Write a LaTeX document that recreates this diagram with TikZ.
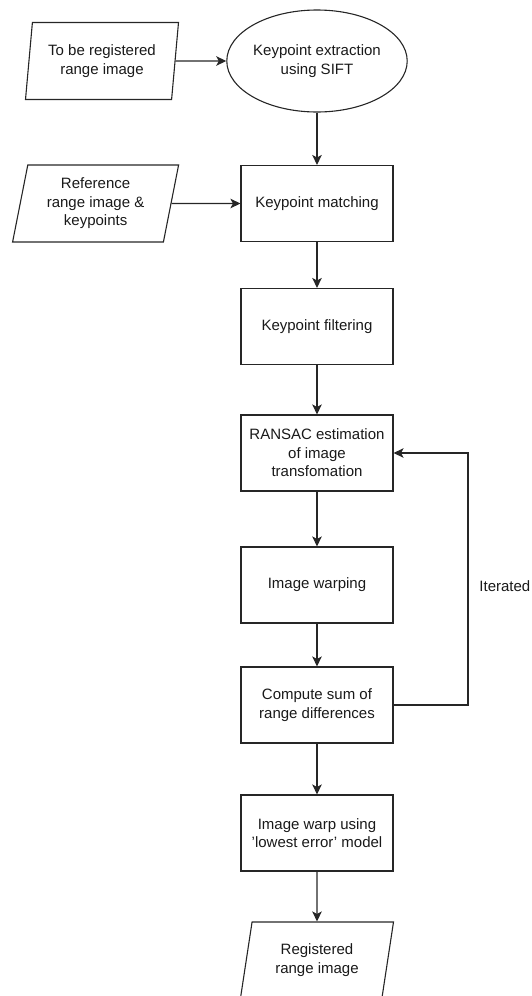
\documentclass[tikz,border=0pt]{standalone}
\usepackage{fontspec}
\setmainfont{Liberation Sans}
\usetikzlibrary{shapes.geometric,arrows.meta}
\begin{document}
\begin{tikzpicture}[x=1pt,y=-1pt,
  every node/.style={font=\fontsize{15}{18.5}\selectfont, text=black!90, align=center},
  procbox/.style={draw=black!85, line width=1.1pt, rectangle, minimum width=152pt, minimum height=76pt, inner sep=2pt},
  iobox/.style={draw=black!85, line width=1.1pt, trapezium, trapezium stretches body, inner sep=0pt, minimum height=77pt},
  arr/.style={draw=black!85, line width=1.1pt, -{Stealth[length=10pt,width=9.5pt,inset=2.5pt]}}
]
\useasboundingbox (0,0) rectangle (531,996);
\node[iobox, minimum width=153pt, trapezium left angle=78, trapezium right angle=102] (p1) at (102,61) {To be registered\\range image};
\node[ellipse, draw=black!85, line width=1.1pt, minimum width=153pt, minimum height=102pt, inner sep=0pt] (sift) at (317,61) {Keypoint extraction\\using SIFT};
\node[iobox, minimum width=166pt, trapezium left angle=73.4, trapezium right angle=106.6] (p2) at (95.6,203.5) {Reference\\range image \&\\keypoints};
\node[procbox] (match) at (317,203.5) {Keypoint matching};
\node[procbox] (filt) at (317,326.5) {Keypoint filtering};
\node[procbox] (ransac) at (317,453) {RANSAC estimation\\of image\\transfomation};
\node[procbox] (warp) at (317,585) {Image warping};
\node[procbox] (sum) at (317,705) {Compute sum of\\range differences};
\node[procbox] (final) at (317,833) {Image warp using\\{\char"0027}lowest error{\char"0027} model};
\node[iobox, minimum width=153pt, minimum height=76pt, trapezium left angle=70.4, trapezium right angle=109.6] (out) at (317,960) {Registered\\range image};
\node[anchor=east, inner sep=0pt] (it) at (530.5,586) {Iterated};
\coordinate (c1) at (468,705);
\coordinate (c2) at (468,453);
\draw[arr] (p1.east) -- (sift.west);
\draw[arr] (sift.south) -- (match.north);
\draw[arr] (p2.east) -- (match.west);
\draw[arr] (match.south) -- (filt.north);
\draw[arr] (filt.south) -- (ransac.north);
\draw[arr] (ransac.south) -- (warp.north);
\draw[arr] (warp.south) -- (sum.north);
\draw[arr] (sum.south) -- (final.north);
\draw[arr] (final.south) -- (out.north);
\draw[arr] (sum.east) -- (c1) -- (c2) -- (ransac.east);
\end{tikzpicture}
\end{document}
